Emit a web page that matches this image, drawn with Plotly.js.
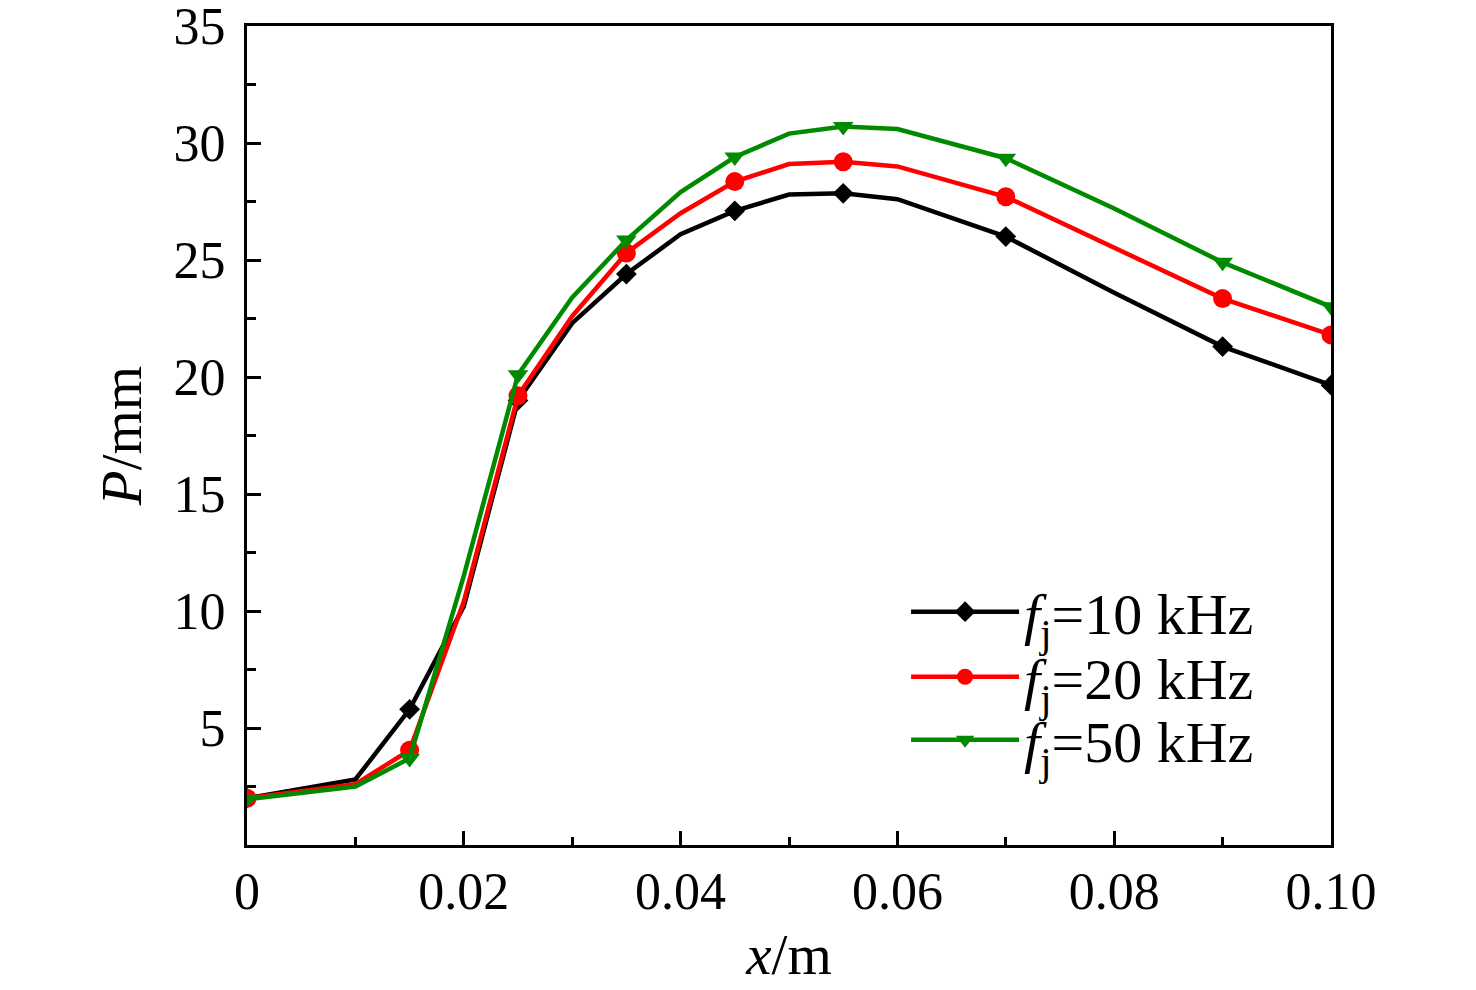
<!DOCTYPE html>
<html>
<head>
<meta charset="utf-8">
<script src="https://cdn.plot.ly/plotly-3.0.1.min.js"></script>
<style>html,body{margin:0;padding:0;background:#fff;}#chart{width:1476px;height:990px;}</style>
</head>
<body>
<div id="chart"></div>
<script>
// positions along x (m)
const xVals = [0, 0.01, 0.015, 0.02, 0.025, 0.03, 0.035, 0.04, 0.045, 0.05, 0.055, 0.06, 0.07, 0.08, 0.09, 0.1];
// x positions that carry a marker symbol
const markerX = [0, 0.015, 0.025, 0.035, 0.045, 0.055, 0.07, 0.09, 0.1];
// P (mm) for each frequency
const p10 = [2.0, 2.8, 5.8, 10.2, 19.0, 22.3, 24.4, 26.1, 27.1, 27.8, 27.85, 27.6, 26.0, 23.6, 21.3, 19.65];
const p20 = [2.0, 2.6, 4.05, 10.4, 19.2, 22.6, 25.3, 27.0, 28.35, 29.1, 29.2, 29.0, 27.7, 25.5, 23.35, 21.8];
const p50 = [1.95, 2.5, 3.7, 11.5, 20.1, 23.4, 25.85, 27.9, 29.4, 30.4, 30.7, 30.6, 29.35, 27.2, 24.9, 23.0];
const seriesNames = ['<i>f</i><sub>j</sub>=10 kHz', '<i>f</i><sub>j</sub>=20 kHz', '<i>f</i><sub>j</sub>=50 kHz'];
const xTickVals = [0, 0.02, 0.04, 0.06, 0.08, 0.1];
const xTickText = ['0', '0.02', '0.04', '0.06', '0.08', '0.10'];
const yTickVals = [5, 10, 15, 20, 25, 30, 35];
const yTickText = ['5', '10', '15', '20', '25', '30', '35'];

const styles = [
  {color: '#000000', symbol: 'diamond', size: 16},
  {color: '#ff0000', symbol: 'circle', size: 19},
  {color: '#008a00', symbol: 'triangle-down', size: 18}
];
const legendIds = ['legend', 'legend2', 'legend3'];
const legendY = [0.2845, 0.2051, 0.1282];
const allSeries = [p10, p20, p50];

const traces = [];
allSeries.forEach((ys, i) => {
  const st = styles[i];
  traces.push({x: xVals, y: ys, mode: 'lines', type: 'scatter', showlegend: false,
    line: {color: st.color, width: 4.5}, hoverinfo: 'skip'});
  const mx = [], my = [];
  xVals.forEach((xv, k) => { if (markerX.some(m => Math.abs(m - xv) < 1e-9)) { mx.push(xv); my.push(ys[k]); } });
  traces.push({x: mx, y: my, mode: 'markers', type: 'scatter', showlegend: false,
    marker: {color: st.color, symbol: st.symbol, size: st.size, line: {width: 0}}});
});
allSeries.forEach((ys, i) => {
  const st = styles[i];
  traces.push({x: [null], y: [null], mode: 'lines+markers', type: 'scatter', name: seriesNames[i],
    legend: legendIds[i],
    line: {color: st.color, width: 4.5},
    marker: {color: st.color, symbol: st.symbol, size: st.size, line: {width: 0}}});
});

const FONT = 'Liberation Serif, Times New Roman, serif';
const layout = {
  width: 1476, height: 990,
  margin: {l: 247, r: 145, t: 26, b: 145},
  paper_bgcolor: '#fff', plot_bgcolor: '#fff',
  font: {family: FONT, size: 52, color: '#000'},
  showlegend: true,
  xaxis: {
    range: [0, 0.1], showgrid: false, zeroline: false,
    showline: true, linecolor: '#000', linewidth: 3, mirror: true,
    ticks: 'inside', ticklen: 14, tickwidth: 3, tickcolor: '#000',
    tickmode: 'array', tickvals: xTickVals, ticktext: xTickText,
    tickfont: {family: FONT, size: 52, color: '#000'}, ticklabelstandoff: -1,
    ticklabeloverflow: 'allow',
    minor: {tickmode: 'linear', tick0: 0, dtick: 0.01, ticks: 'inside', ticklen: 8, tickwidth: 3, tickcolor: '#000', showgrid: false},
    title: {text: '<i>x</i>/m', font: {family: FONT, size: 57, color: '#000'}, standoff: 15}
  },
  yaxis: {
    range: [0, 35], showgrid: false, zeroline: false,
    showline: true, linecolor: '#000', linewidth: 3, mirror: true,
    ticks: 'inside', ticklen: 14, tickwidth: 3, tickcolor: '#000',
    tickmode: 'array', tickvals: yTickVals, ticktext: yTickText,
    tickfont: {family: FONT, size: 52, color: '#000'}, ticklabelstandoff: 8,
    ticklabeloverflow: 'allow',
    minor: {tickmode: 'linear', tick0: 0, dtick: 2.5, ticks: 'inside', ticklen: 9, tickwidth: 3, tickcolor: '#000', showgrid: false},
    title: {text: '<i>P</i>/mm', font: {family: FONT, size: 57, color: '#000'}, standoff: 14}
  }
};
legendIds.forEach((id, i) => {
  layout[id] = {x: 0.608, y: legendY[i], xanchor: 'left', yanchor: 'middle', bgcolor: 'rgba(0,0,0,0)',
    font: {family: FONT, size: 58, color: '#000'}, itemwidth: 108, borderwidth: 0};
});
Plotly.newPlot('chart', traces, layout, {staticPlot: true, displayModeBar: false});
</script>
</body>
</html>
